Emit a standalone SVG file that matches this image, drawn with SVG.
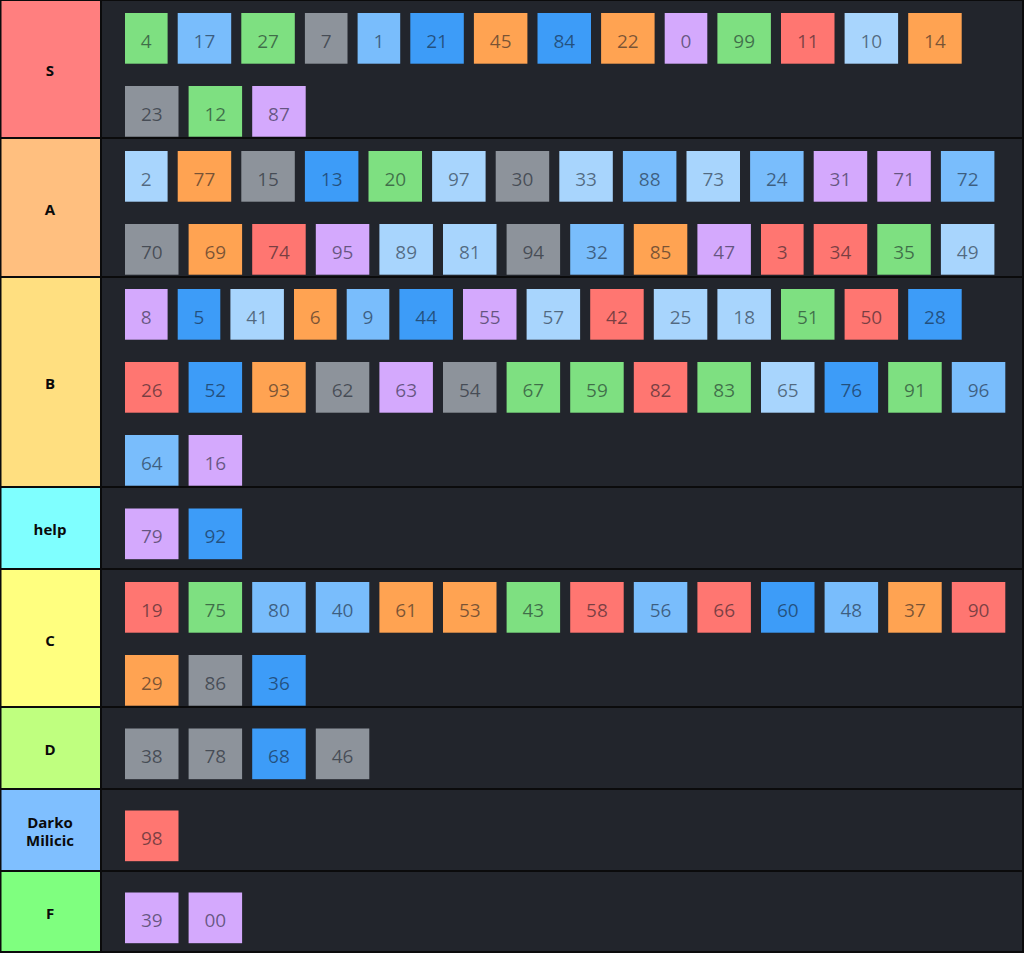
<svg xmlns="http://www.w3.org/2000/svg" width="1024" height="953" viewBox="0 0 1024 953">
<style>
.bg{fill:#0b0b0c}
.row{fill:#22252c}
.lbl{font-family:"Open Sans","Noto Sans","Liberation Sans",sans-serif;font-weight:700;font-size:15px;fill:#0a0a0a;text-anchor:middle}
.it text{font-family:"Open Sans","Noto Sans","Liberation Sans",sans-serif;font-size:19px;fill:#10151f;fill-opacity:.56;text-anchor:middle}
.g{fill:#7ee081}.lb{fill:#79bdfc}.b{fill:#3d9cf8}.vlb{fill:#a8d5fd}.gr{fill:#8d939b}.o{fill:#ffa352}.p{fill:#d4a9fd}.r{fill:#ff7671}
</style>
<rect class="bg" x="0" y="0" width="1024" height="953"/>

<g id="tier-S">
<rect x="1.5" y="1" width="98.5" height="136" fill="#ff7f7f"/>
<rect class="row" x="102" y="1" width="920" height="136"/>
<text class="lbl" x="50" y="76">S</text>
<g class="it" id="item-4" transform="translate(125 13)"><rect class="g" width="42.6" height="50.7"/><text x="21.3" y="34.5">4</text></g>
<g class="it" id="item-17" transform="translate(177.7 13)"><rect class="lb" width="53.5" height="50.7"/><text x="26.75" y="34.5">17</text></g>
<g class="it" id="item-27" transform="translate(241.3 13)"><rect class="g" width="53.5" height="50.7"/><text x="26.75" y="34.5">27</text></g>
<g class="it" id="item-7" transform="translate(304.9 13)"><rect class="gr" width="42.6" height="50.7"/><text x="21.3" y="34.5">7</text></g>
<g class="it" id="item-1" transform="translate(357.6 13)"><rect class="lb" width="42.6" height="50.7"/><text x="21.3" y="34.5">1</text></g>
<g class="it" id="item-21" transform="translate(410.3 13)"><rect class="b" width="53.5" height="50.7"/><text x="26.75" y="34.5">21</text></g>
<g class="it" id="item-45" transform="translate(473.9 13)"><rect class="o" width="53.5" height="50.7"/><text x="26.75" y="34.5">45</text></g>
<g class="it" id="item-84" transform="translate(537.5 13)"><rect class="b" width="53.5" height="50.7"/><text x="26.75" y="34.5">84</text></g>
<g class="it" id="item-22" transform="translate(601.1 13)"><rect class="o" width="53.5" height="50.7"/><text x="26.75" y="34.5">22</text></g>
<g class="it" id="item-0" transform="translate(664.7 13)"><rect class="p" width="42.6" height="50.7"/><text x="21.3" y="34.5">0</text></g>
<g class="it" id="item-99" transform="translate(717.4 13)"><rect class="g" width="53.5" height="50.7"/><text x="26.75" y="34.5">99</text></g>
<g class="it" id="item-11" transform="translate(781 13)"><rect class="r" width="53.5" height="50.7"/><text x="26.75" y="34.5">11</text></g>
<g class="it" id="item-10" transform="translate(844.6 13)"><rect class="vlb" width="53.5" height="50.7"/><text x="26.75" y="34.5">10</text></g>
<g class="it" id="item-14" transform="translate(908.2 13)"><rect class="o" width="53.5" height="50.7"/><text x="26.75" y="34.5">14</text></g>
<g class="it" id="item-23" transform="translate(125 86)"><rect class="gr" width="53.5" height="50.7"/><text x="26.75" y="34.5">23</text></g>
<g class="it" id="item-12" transform="translate(188.6 86)"><rect class="g" width="53.5" height="50.7"/><text x="26.75" y="34.5">12</text></g>
<g class="it" id="item-87" transform="translate(252.2 86)"><rect class="p" width="53.5" height="50.7"/><text x="26.75" y="34.5">87</text></g>
</g>

<g id="tier-A">
<rect x="1.5" y="139" width="98.5" height="137" fill="#ffbf7f"/>
<rect class="row" x="102" y="139" width="920" height="137"/>
<text class="lbl" x="50" y="214.5">A</text>
<g class="it" id="item-2" transform="translate(125 151)"><rect class="vlb" width="42.6" height="50.7"/><text x="21.3" y="34.5">2</text></g>
<g class="it" id="item-77" transform="translate(177.7 151)"><rect class="o" width="53.5" height="50.7"/><text x="26.75" y="34.5">77</text></g>
<g class="it" id="item-15" transform="translate(241.3 151)"><rect class="gr" width="53.5" height="50.7"/><text x="26.75" y="34.5">15</text></g>
<g class="it" id="item-13" transform="translate(304.9 151)"><rect class="b" width="53.5" height="50.7"/><text x="26.75" y="34.5">13</text></g>
<g class="it" id="item-20" transform="translate(368.5 151)"><rect class="g" width="53.5" height="50.7"/><text x="26.75" y="34.5">20</text></g>
<g class="it" id="item-97" transform="translate(432.1 151)"><rect class="vlb" width="53.5" height="50.7"/><text x="26.75" y="34.5">97</text></g>
<g class="it" id="item-30" transform="translate(495.7 151)"><rect class="gr" width="53.5" height="50.7"/><text x="26.75" y="34.5">30</text></g>
<g class="it" id="item-33" transform="translate(559.3 151)"><rect class="vlb" width="53.5" height="50.7"/><text x="26.75" y="34.5">33</text></g>
<g class="it" id="item-88" transform="translate(622.9 151)"><rect class="lb" width="53.5" height="50.7"/><text x="26.75" y="34.5">88</text></g>
<g class="it" id="item-73" transform="translate(686.5 151)"><rect class="vlb" width="53.5" height="50.7"/><text x="26.75" y="34.5">73</text></g>
<g class="it" id="item-24" transform="translate(750.1 151)"><rect class="lb" width="53.5" height="50.7"/><text x="26.75" y="34.5">24</text></g>
<g class="it" id="item-31" transform="translate(813.7 151)"><rect class="p" width="53.5" height="50.7"/><text x="26.75" y="34.5">31</text></g>
<g class="it" id="item-71" transform="translate(877.3 151)"><rect class="p" width="53.5" height="50.7"/><text x="26.75" y="34.5">71</text></g>
<g class="it" id="item-72" transform="translate(940.9 151)"><rect class="lb" width="53.5" height="50.7"/><text x="26.75" y="34.5">72</text></g>
<g class="it" id="item-70" transform="translate(125 224)"><rect class="gr" width="53.5" height="50.7"/><text x="26.75" y="34.5">70</text></g>
<g class="it" id="item-69" transform="translate(188.6 224)"><rect class="o" width="53.5" height="50.7"/><text x="26.75" y="34.5">69</text></g>
<g class="it" id="item-74" transform="translate(252.2 224)"><rect class="r" width="53.5" height="50.7"/><text x="26.75" y="34.5">74</text></g>
<g class="it" id="item-95" transform="translate(315.8 224)"><rect class="p" width="53.5" height="50.7"/><text x="26.75" y="34.5">95</text></g>
<g class="it" id="item-89" transform="translate(379.4 224)"><rect class="vlb" width="53.5" height="50.7"/><text x="26.75" y="34.5">89</text></g>
<g class="it" id="item-81" transform="translate(443 224)"><rect class="vlb" width="53.5" height="50.7"/><text x="26.75" y="34.5">81</text></g>
<g class="it" id="item-94" transform="translate(506.6 224)"><rect class="gr" width="53.5" height="50.7"/><text x="26.75" y="34.5">94</text></g>
<g class="it" id="item-32" transform="translate(570.2 224)"><rect class="lb" width="53.5" height="50.7"/><text x="26.75" y="34.5">32</text></g>
<g class="it" id="item-85" transform="translate(633.8 224)"><rect class="o" width="53.5" height="50.7"/><text x="26.75" y="34.5">85</text></g>
<g class="it" id="item-47" transform="translate(697.4 224)"><rect class="p" width="53.5" height="50.7"/><text x="26.75" y="34.5">47</text></g>
<g class="it" id="item-3" transform="translate(761 224)"><rect class="r" width="42.6" height="50.7"/><text x="21.3" y="34.5">3</text></g>
<g class="it" id="item-34" transform="translate(813.7 224)"><rect class="r" width="53.5" height="50.7"/><text x="26.75" y="34.5">34</text></g>
<g class="it" id="item-35" transform="translate(877.3 224)"><rect class="g" width="53.5" height="50.7"/><text x="26.75" y="34.5">35</text></g>
<g class="it" id="item-49" transform="translate(940.9 224)"><rect class="vlb" width="53.5" height="50.7"/><text x="26.75" y="34.5">49</text></g>
</g>

<g id="tier-B">
<rect x="1.5" y="278" width="98.5" height="208" fill="#ffdf80"/>
<rect class="row" x="102" y="278" width="920" height="208"/>
<text class="lbl" x="50" y="388.5">B</text>
<g class="it" id="item-8" transform="translate(125 289)"><rect class="p" width="42.6" height="50.7"/><text x="21.3" y="34.5">8</text></g>
<g class="it" id="item-5" transform="translate(177.7 289)"><rect class="b" width="42.6" height="50.7"/><text x="21.3" y="34.5">5</text></g>
<g class="it" id="item-41" transform="translate(230.4 289)"><rect class="vlb" width="53.5" height="50.7"/><text x="26.75" y="34.5">41</text></g>
<g class="it" id="item-6" transform="translate(294 289)"><rect class="o" width="42.6" height="50.7"/><text x="21.3" y="34.5">6</text></g>
<g class="it" id="item-9" transform="translate(346.7 289)"><rect class="lb" width="42.6" height="50.7"/><text x="21.3" y="34.5">9</text></g>
<g class="it" id="item-44" transform="translate(399.4 289)"><rect class="b" width="53.5" height="50.7"/><text x="26.75" y="34.5">44</text></g>
<g class="it" id="item-55" transform="translate(463 289)"><rect class="p" width="53.5" height="50.7"/><text x="26.75" y="34.5">55</text></g>
<g class="it" id="item-57" transform="translate(526.6 289)"><rect class="vlb" width="53.5" height="50.7"/><text x="26.75" y="34.5">57</text></g>
<g class="it" id="item-42" transform="translate(590.2 289)"><rect class="r" width="53.5" height="50.7"/><text x="26.75" y="34.5">42</text></g>
<g class="it" id="item-25" transform="translate(653.8 289)"><rect class="vlb" width="53.5" height="50.7"/><text x="26.75" y="34.5">25</text></g>
<g class="it" id="item-18" transform="translate(717.4 289)"><rect class="vlb" width="53.5" height="50.7"/><text x="26.75" y="34.5">18</text></g>
<g class="it" id="item-51" transform="translate(781 289)"><rect class="g" width="53.5" height="50.7"/><text x="26.75" y="34.5">51</text></g>
<g class="it" id="item-50" transform="translate(844.6 289)"><rect class="r" width="53.5" height="50.7"/><text x="26.75" y="34.5">50</text></g>
<g class="it" id="item-28" transform="translate(908.2 289)"><rect class="b" width="53.5" height="50.7"/><text x="26.75" y="34.5">28</text></g>
<g class="it" id="item-26" transform="translate(125 362)"><rect class="r" width="53.5" height="50.7"/><text x="26.75" y="34.5">26</text></g>
<g class="it" id="item-52" transform="translate(188.6 362)"><rect class="b" width="53.5" height="50.7"/><text x="26.75" y="34.5">52</text></g>
<g class="it" id="item-93" transform="translate(252.2 362)"><rect class="o" width="53.5" height="50.7"/><text x="26.75" y="34.5">93</text></g>
<g class="it" id="item-62" transform="translate(315.8 362)"><rect class="gr" width="53.5" height="50.7"/><text x="26.75" y="34.5">62</text></g>
<g class="it" id="item-63" transform="translate(379.4 362)"><rect class="p" width="53.5" height="50.7"/><text x="26.75" y="34.5">63</text></g>
<g class="it" id="item-54" transform="translate(443 362)"><rect class="gr" width="53.5" height="50.7"/><text x="26.75" y="34.5">54</text></g>
<g class="it" id="item-67" transform="translate(506.6 362)"><rect class="g" width="53.5" height="50.7"/><text x="26.75" y="34.5">67</text></g>
<g class="it" id="item-59" transform="translate(570.2 362)"><rect class="g" width="53.5" height="50.7"/><text x="26.75" y="34.5">59</text></g>
<g class="it" id="item-82" transform="translate(633.8 362)"><rect class="r" width="53.5" height="50.7"/><text x="26.75" y="34.5">82</text></g>
<g class="it" id="item-83" transform="translate(697.4 362)"><rect class="g" width="53.5" height="50.7"/><text x="26.75" y="34.5">83</text></g>
<g class="it" id="item-65" transform="translate(761 362)"><rect class="vlb" width="53.5" height="50.7"/><text x="26.75" y="34.5">65</text></g>
<g class="it" id="item-76" transform="translate(824.6 362)"><rect class="b" width="53.5" height="50.7"/><text x="26.75" y="34.5">76</text></g>
<g class="it" id="item-91" transform="translate(888.2 362)"><rect class="g" width="53.5" height="50.7"/><text x="26.75" y="34.5">91</text></g>
<g class="it" id="item-96" transform="translate(951.8 362)"><rect class="lb" width="53.5" height="50.7"/><text x="26.75" y="34.5">96</text></g>
<g class="it" id="item-64" transform="translate(125 435)"><rect class="lb" width="53.5" height="50.7"/><text x="26.75" y="34.5">64</text></g>
<g class="it" id="item-16" transform="translate(188.6 435)"><rect class="p" width="53.5" height="50.7"/><text x="26.75" y="34.5">16</text></g>
</g>

<g id="tier-help">
<rect x="1.5" y="488" width="98.5" height="80" fill="#7fffff"/>
<rect class="row" x="102" y="488" width="920" height="80"/>
<text class="lbl" x="50" y="535">help</text>
<g class="it" id="item-79" transform="translate(125 508.5)"><rect class="p" width="53.5" height="50.7"/><text x="26.75" y="34.5">79</text></g>
<g class="it" id="item-92" transform="translate(188.6 508.5)"><rect class="b" width="53.5" height="50.7"/><text x="26.75" y="34.5">92</text></g>
</g>

<g id="tier-C">
<rect x="1.5" y="570" width="98.5" height="136" fill="#ffff7f"/>
<rect class="row" x="102" y="570" width="920" height="136"/>
<text class="lbl" x="50" y="645.5">C</text>
<g class="it" id="item-19" transform="translate(125 582)"><rect class="r" width="53.5" height="50.7"/><text x="26.75" y="34.5">19</text></g>
<g class="it" id="item-75" transform="translate(188.6 582)"><rect class="g" width="53.5" height="50.7"/><text x="26.75" y="34.5">75</text></g>
<g class="it" id="item-80" transform="translate(252.2 582)"><rect class="lb" width="53.5" height="50.7"/><text x="26.75" y="34.5">80</text></g>
<g class="it" id="item-40" transform="translate(315.8 582)"><rect class="lb" width="53.5" height="50.7"/><text x="26.75" y="34.5">40</text></g>
<g class="it" id="item-61" transform="translate(379.4 582)"><rect class="o" width="53.5" height="50.7"/><text x="26.75" y="34.5">61</text></g>
<g class="it" id="item-53" transform="translate(443 582)"><rect class="o" width="53.5" height="50.7"/><text x="26.75" y="34.5">53</text></g>
<g class="it" id="item-43" transform="translate(506.6 582)"><rect class="g" width="53.5" height="50.7"/><text x="26.75" y="34.5">43</text></g>
<g class="it" id="item-58" transform="translate(570.2 582)"><rect class="r" width="53.5" height="50.7"/><text x="26.75" y="34.5">58</text></g>
<g class="it" id="item-56" transform="translate(633.8 582)"><rect class="lb" width="53.5" height="50.7"/><text x="26.75" y="34.5">56</text></g>
<g class="it" id="item-66" transform="translate(697.4 582)"><rect class="r" width="53.5" height="50.7"/><text x="26.75" y="34.5">66</text></g>
<g class="it" id="item-60" transform="translate(761 582)"><rect class="b" width="53.5" height="50.7"/><text x="26.75" y="34.5">60</text></g>
<g class="it" id="item-48" transform="translate(824.6 582)"><rect class="lb" width="53.5" height="50.7"/><text x="26.75" y="34.5">48</text></g>
<g class="it" id="item-37" transform="translate(888.2 582)"><rect class="o" width="53.5" height="50.7"/><text x="26.75" y="34.5">37</text></g>
<g class="it" id="item-90" transform="translate(951.8 582)"><rect class="r" width="53.5" height="50.7"/><text x="26.75" y="34.5">90</text></g>
<g class="it" id="item-29" transform="translate(125 655)"><rect class="o" width="53.5" height="50.7"/><text x="26.75" y="34.5">29</text></g>
<g class="it" id="item-86" transform="translate(188.6 655)"><rect class="gr" width="53.5" height="50.7"/><text x="26.75" y="34.5">86</text></g>
<g class="it" id="item-36" transform="translate(252.2 655)"><rect class="b" width="53.5" height="50.7"/><text x="26.75" y="34.5">36</text></g>
</g>

<g id="tier-D">
<rect x="1.5" y="708" width="98.5" height="80" fill="#bfff7f"/>
<rect class="row" x="102" y="708" width="920" height="80"/>
<text class="lbl" x="50" y="755">D</text>
<g class="it" id="item-38" transform="translate(125 728.5)"><rect class="gr" width="53.5" height="50.7"/><text x="26.75" y="34.5">38</text></g>
<g class="it" id="item-78" transform="translate(188.6 728.5)"><rect class="gr" width="53.5" height="50.7"/><text x="26.75" y="34.5">78</text></g>
<g class="it" id="item-68" transform="translate(252.2 728.5)"><rect class="b" width="53.5" height="50.7"/><text x="26.75" y="34.5">68</text></g>
<g class="it" id="item-46" transform="translate(315.8 728.5)"><rect class="gr" width="53.5" height="50.7"/><text x="26.75" y="34.5">46</text></g>
</g>

<g id="tier-Darko-Milicic">
<rect x="1.5" y="790" width="98.5" height="80" fill="#7fbfff"/>
<rect class="row" x="102" y="790" width="920" height="80"/>
<text class="lbl" x="50" y="827.5">Darko</text>
<text class="lbl" x="50" y="846">Milicic</text>
<g class="it" id="item-98" transform="translate(125 810.5)"><rect class="r" width="53.5" height="50.7"/><text x="26.75" y="34.5">98</text></g>
</g>

<g id="tier-F">
<rect x="1.5" y="872" width="98.5" height="79" fill="#7fff7f"/>
<rect class="row" x="102" y="872" width="920" height="79"/>
<text class="lbl" x="50" y="919">F</text>
<g class="it" id="item-39" transform="translate(125 892.5)"><rect class="p" width="53.5" height="50.7"/><text x="26.75" y="34.5">39</text></g>
<g class="it" id="item-00" transform="translate(188.6 892.5)"><rect class="p" width="53.5" height="50.7"/><text x="26.75" y="34.5">00</text></g>
</g>
</svg>
